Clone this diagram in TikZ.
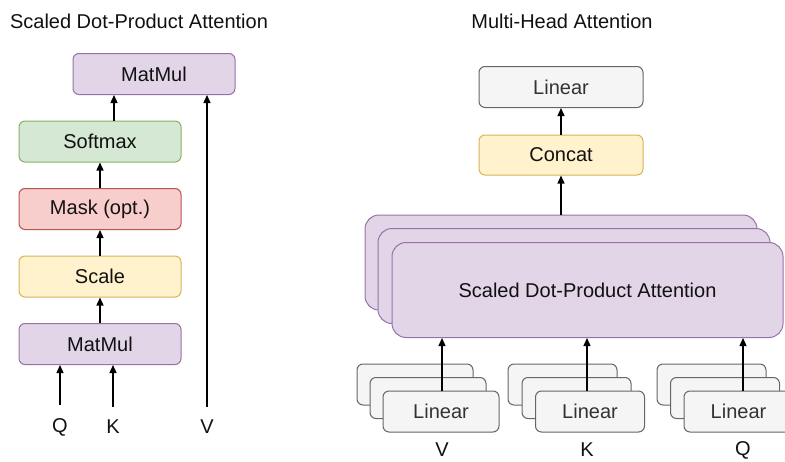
\documentclass[tikz,border=0pt]{standalone}
\usepackage{fontspec}
\setmainfont{Liberation Sans}
\usetikzlibrary{arrows.meta,calc}
\definecolor{purF}{HTML}{E1D5E7}\definecolor{purD}{HTML}{9673A6}
\definecolor{grnF}{HTML}{D5E8D4}\definecolor{grnD}{HTML}{82B366}
\definecolor{redF}{HTML}{F8CECC}\definecolor{redD}{HTML}{B85450}
\definecolor{yelF}{HTML}{FFF2CC}\definecolor{yelD}{HTML}{D6B656}
\definecolor{gryF}{HTML}{F5F5F5}\definecolor{gryD}{HTML}{666666}
\definecolor{gryT}{HTML}{333333}
\definecolor{txt}{HTML}{111111}
\begin{document}
\begin{tikzpicture}[x=1pt,y=-1pt,
  every node/.style={font=\fontsize{20}{23}\selectfont, text=txt, inner sep=0pt},
  box/.style={draw, rounded corners=6pt, line width=1pt, minimum height=41pt},
  pur/.style={box, fill=purF, draw=purD},
  grn/.style={box, fill=grnF, draw=grnD},
  red/.style={box, fill=redF, draw=redD},
  yel/.style={box, fill=yelF, draw=yelD},
  gry/.style={box, fill=gryF, draw=gryD, text=gryT},
  att/.style={pur, rounded corners=14pt, minimum width=392pt, minimum height=95pt},
  arr/.style={-{Triangle[length=8pt,width=7pt]}, line width=1.3pt, black}]
\clip (0,0) rectangle (785,461);
% titles
\node (t1) at (139,21) {Scaled Dot-Product Attention};
\node (t2) at (562,21) {Multi-Head Attention};
% left column
\node[pur, minimum width=162pt] (mm2) at (154,74) {MatMul};
\node[grn, minimum width=162pt] (sm) at (100,141.5) {Softmax};
\node[red, minimum width=162pt] (mask) at (100,209) {Mask (opt.)};
\node[yel, minimum width=162pt] (sc) at (100,276.5) {Scale};
\node[pur, minimum width=162pt] (mm1) at (100,344) {MatMul};
\node (q) at (60,427) {Q};
\node (k) at (113,427) {K};
\node (v) at (207,427) {V};
\draw[arr] (mm1.north) -- (sc.south);
\draw[arr] (sc.north) -- (mask.south);
\draw[arr] (mask.north) -- (sm.south);
\draw[arr] ([xshift=1pt]k |- sm.north) -- ([xshift=1pt]k |- mm2.south);
\draw[arr, shorten <=13pt] (q.north) -- (q.north |- mm1.south);
\draw[arr, shorten <=13pt] (k.north) -- (k.north |- mm1.south);
\draw[arr, shorten <=13pt] (v.north) -- (v.north |- mm2.south);
% right column
\node[gry, minimum width=164pt] (lin) at (561,87) {Linear};
\node[yel, minimum width=164pt, minimum height=40pt] (cc) at (561,155) {Concat};
\node[att] (att3) at (561,262.5) {};
\node[att] (att2) at (574,276) {};
\node[att, minimum width=391pt] (att1) at (587.5,290) {Scaled Dot-Product Attention};
\draw[arr] (cc.north) -- (lin.south);
\draw[arr] (att3.north) -- (cc.south);
% linear stacks
\node[gry, minimum width=116pt] (l1c) at (415,384.5) {};
\node[gry, minimum width=116pt] (l1b) at (428,398) {};
\node[gry, minimum width=116pt] (l1a) at (441,411.5) {Linear};
\node[gry, minimum width=109pt] (l2c) at (562.5,384.5) {};
\node[gry, minimum width=109pt] (l2b) at (576.5,398) {};
\node[gry, minimum width=109pt] (l2a) at (590,411.5) {Linear};
\node[gry, minimum width=109pt] (l3c) at (711.5,384.5) {};
\node[gry, minimum width=109pt] (l3b) at (725,398) {};
\node[gry, minimum width=109pt] (l3a) at (738.5,411.5) {Linear};
\node (rv) at (442,450) {V};
\node (rk) at (587,450) {K};
\node (rq) at (743,450) {Q};
\draw[arr] (rv |- l1a.north) -- (rv |- att1.south);
\draw[arr] (rk |- l2a.north) -- (rk |- att1.south);
\draw[arr] (rq |- l3a.north) -- (rq |- att1.south);
\end{tikzpicture}
\end{document}
